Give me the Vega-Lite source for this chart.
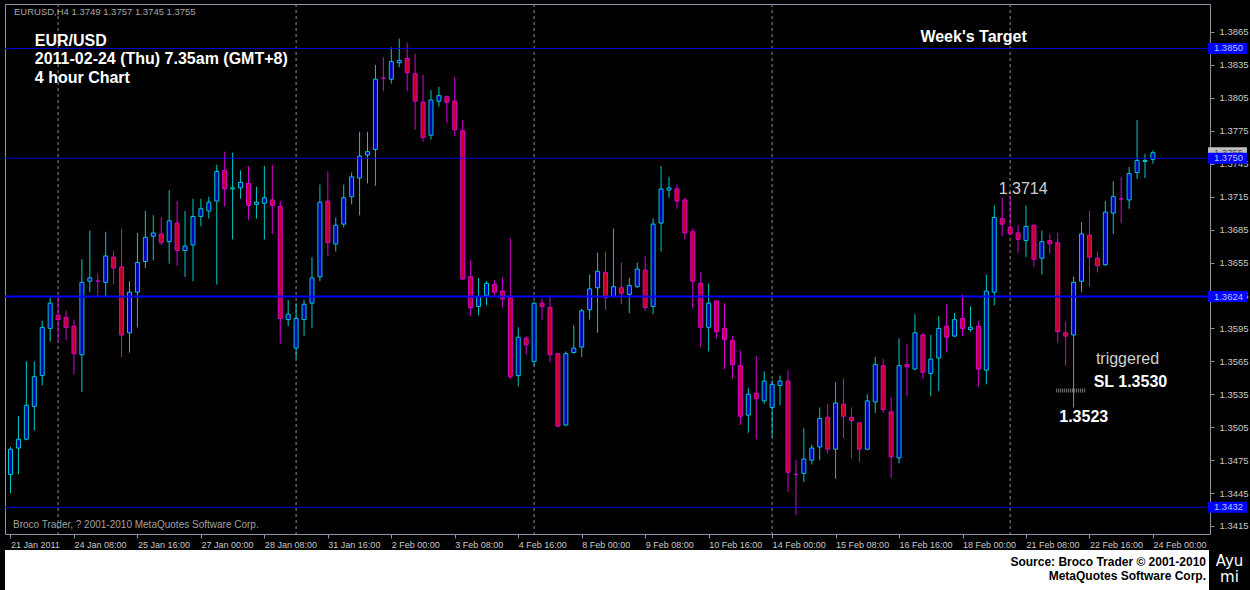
{
  "$schema": "https://vega.github.io/schema/vega-lite/v6.json",
  "background": "#000000",
  "padding": {"left": 3, "top": 3, "right": 0, "bottom": 0},
  "spacing": 0,
  "config": {
    "font": "Liberation Sans",
    "view": {"stroke": "#8a96a6", "strokeWidth": 1},
    "concat": {"spacing": 0}
  },
  "datasets": {
    "candles": [
      {"i":0,"open":1.3462,"high":1.3487,"low":1.3445,"close":1.3485},
      {"i":1,"open":1.3486,"high":1.3515,"low":1.3462,"close":1.3494},
      {"i":2,"open":1.3494,"high":1.3565,"low":1.3493,"close":1.3525},
      {"i":3,"open":1.3524,"high":1.3565,"low":1.3502,"close":1.3551},
      {"i":4,"open":1.3552,"high":1.3602,"low":1.3543,"close":1.3596},
      {"i":5,"open":1.3595,"high":1.3623,"low":1.3583,"close":1.3618},
      {"i":6,"open":1.3607,"high":1.3623,"low":1.3583,"close":1.3603},
      {"i":7,"open":1.3605,"high":1.3611,"low":1.3584,"close":1.3596},
      {"i":8,"open":1.3597,"high":1.3603,"low":1.3553,"close":1.3572},
      {"i":9,"open":1.3571,"high":1.3658,"low":1.3537,"close":1.3637},
      {"i":10,"open":1.3638,"high":1.3684,"low":1.3628,"close":1.3641},
      {"i":11,"open":1.3638,"high":1.3645,"low":1.3625,"close":1.3638},
      {"i":12,"open":1.3637,"high":1.3683,"low":1.3624,"close":1.3661},
      {"i":13,"open":1.3660,"high":1.3666,"low":1.3635,"close":1.3650},
      {"i":14,"open":1.3651,"high":1.3686,"low":1.3569,"close":1.3589},
      {"i":15,"open":1.3591,"high":1.3638,"low":1.3573,"close":1.3628},
      {"i":16,"open":1.3628,"high":1.3682,"low":1.3596,"close":1.3655},
      {"i":17,"open":1.3656,"high":1.3702,"low":1.3650,"close":1.3678},
      {"i":18,"open":1.3679,"high":1.3698,"low":1.3657,"close":1.3682},
      {"i":19,"open":1.3681,"high":1.3696,"low":1.3671,"close":1.3673},
      {"i":20,"open":1.3674,"high":1.3721,"low":1.3654,"close":1.3693},
      {"i":21,"open":1.3691,"high":1.3711,"low":1.3652,"close":1.3666},
      {"i":22,"open":1.3666,"high":1.3702,"low":1.3642,"close":1.3670},
      {"i":23,"open":1.3671,"high":1.3713,"low":1.3638,"close":1.3697},
      {"i":24,"open":1.3697,"high":1.3713,"low":1.3688,"close":1.3704},
      {"i":25,"open":1.3702,"high":1.3715,"low":1.3695,"close":1.3710},
      {"i":26,"open":1.3711,"high":1.3744,"low":1.3635,"close":1.3738},
      {"i":27,"open":1.3739,"high":1.3756,"low":1.3706,"close":1.3722},
      {"i":28,"open":1.3722,"high":1.3755,"low":1.3676,"close":1.3723},
      {"i":29,"open":1.3723,"high":1.3739,"low":1.3713,"close":1.3728},
      {"i":30,"open":1.3727,"high":1.3743,"low":1.3694,"close":1.3707},
      {"i":31,"open":1.3708,"high":1.3724,"low":1.3695,"close":1.3710},
      {"i":32,"open":1.3709,"high":1.3743,"low":1.3676,"close":1.3714},
      {"i":33,"open":1.3712,"high":1.3744,"low":1.3681,"close":1.3707},
      {"i":34,"open":1.3706,"high":1.3711,"low":1.3581,"close":1.3604},
      {"i":35,"open":1.3603,"high":1.3621,"low":1.3597,"close":1.3608},
      {"i":36,"open":1.3577,"high":1.3618,"low":1.3567,"close":1.3604},
      {"i":37,"open":1.3603,"high":1.3621,"low":1.3588,"close":1.3617},
      {"i":38,"open":1.3618,"high":1.3660,"low":1.3595,"close":1.3641},
      {"i":39,"open":1.3642,"high":1.3726,"low":1.3638,"close":1.3710},
      {"i":40,"open":1.3711,"high":1.3738,"low":1.3661,"close":1.3673},
      {"i":41,"open":1.3672,"high":1.3696,"low":1.3665,"close":1.3689},
      {"i":42,"open":1.3690,"high":1.3726,"low":1.3687,"close":1.3714},
      {"i":43,"open":1.3715,"high":1.3737,"low":1.3708,"close":1.3733},
      {"i":44,"open":1.3732,"high":1.3774,"low":1.3698,"close":1.3752},
      {"i":45,"open":1.3753,"high":1.3774,"low":1.3727,"close":1.3756},
      {"i":46,"open":1.3758,"high":1.3835,"low":1.3725,"close":1.3822},
      {"i":47,"open":1.3823,"high":1.3842,"low":1.3811,"close":1.3823},
      {"i":48,"open":1.3822,"high":1.3851,"low":1.3818,"close":1.3838},
      {"i":49,"open":1.3837,"high":1.3859,"low":1.3833,"close":1.3839},
      {"i":50,"open":1.3841,"high":1.3855,"low":1.3811,"close":1.3828},
      {"i":51,"open":1.3827,"high":1.3845,"low":1.3776,"close":1.3802},
      {"i":52,"open":1.3801,"high":1.3826,"low":1.3765,"close":1.3769},
      {"i":53,"open":1.3771,"high":1.3812,"low":1.3767,"close":1.3803},
      {"i":54,"open":1.3802,"high":1.3815,"low":1.3797,"close":1.3807},
      {"i":55,"open":1.3806,"high":1.3807,"low":1.3782,"close":1.3801},
      {"i":56,"open":1.3802,"high":1.3824,"low":1.3770,"close":1.3776},
      {"i":57,"open":1.3775,"high":1.3785,"low":1.3639,"close":1.3640},
      {"i":58,"open":1.3642,"high":1.3657,"low":1.3606,"close":1.3614},
      {"i":59,"open":1.3615,"high":1.3641,"low":1.3607,"close":1.3624},
      {"i":60,"open":1.3625,"high":1.3638,"low":1.3616,"close":1.3636},
      {"i":61,"open":1.3635,"high":1.3639,"low":1.3625,"close":1.3628},
      {"i":62,"open":1.3629,"high":1.3641,"low":1.3614,"close":1.3622},
      {"i":63,"open":1.3623,"high":1.3677,"low":1.3549,"close":1.3551},
      {"i":64,"open":1.3552,"high":1.3596,"low":1.3542,"close":1.3587},
      {"i":65,"open":1.3586,"high":1.3588,"low":1.3571,"close":1.3580},
      {"i":66,"open":1.3565,"high":1.3619,"low":1.3561,"close":1.3618},
      {"i":67,"open":1.3618,"high":1.3622,"low":1.3603,"close":1.3615},
      {"i":68,"open":1.3614,"high":1.3625,"low":1.3564,"close":1.3571},
      {"i":69,"open":1.3572,"high":1.3572,"low":1.3505,"close":1.3506},
      {"i":70,"open":1.3507,"high":1.3574,"low":1.3506,"close":1.3572},
      {"i":71,"open":1.3573,"high":1.3598,"low":1.3572,"close":1.3577},
      {"i":72,"open":1.3578,"high":1.3613,"low":1.3569,"close":1.3611},
      {"i":73,"open":1.3612,"high":1.3644,"low":1.3603,"close":1.3631},
      {"i":74,"open":1.3632,"high":1.3664,"low":1.3591,"close":1.3647},
      {"i":75,"open":1.3646,"high":1.3665,"low":1.3612,"close":1.3623},
      {"i":76,"open":1.3624,"high":1.3686,"low":1.3623,"close":1.3633},
      {"i":77,"open":1.3632,"high":1.3655,"low":1.3617,"close":1.3627},
      {"i":78,"open":1.3626,"high":1.3641,"low":1.3609,"close":1.3634},
      {"i":79,"open":1.3633,"high":1.3655,"low":1.3632,"close":1.3649},
      {"i":80,"open":1.3648,"high":1.3661,"low":1.3611,"close":1.3614},
      {"i":81,"open":1.3615,"high":1.3695,"low":1.3608,"close":1.3690},
      {"i":82,"open":1.3691,"high":1.3743,"low":1.3665,"close":1.3722},
      {"i":83,"open":1.3721,"high":1.3733,"low":1.3714,"close":1.3723},
      {"i":84,"open":1.3722,"high":1.3726,"low":1.3704,"close":1.3711},
      {"i":85,"open":1.3712,"high":1.3714,"low":1.3676,"close":1.3682},
      {"i":86,"open":1.3683,"high":1.3686,"low":1.3613,"close":1.3638},
      {"i":87,"open":1.3636,"high":1.3646,"low":1.3578,"close":1.3596},
      {"i":88,"open":1.3596,"high":1.3636,"low":1.3574,"close":1.3618},
      {"i":89,"open":1.3620,"high":1.3620,"low":1.3586,"close":1.3592},
      {"i":90,"open":1.3595,"high":1.3618,"low":1.3558,"close":1.3585},
      {"i":91,"open":1.3584,"high":1.3588,"low":1.3549,"close":1.3562},
      {"i":92,"open":1.3561,"high":1.3575,"low":1.3507,"close":1.3515},
      {"i":93,"open":1.3516,"high":1.3541,"low":1.3500,"close":1.3535},
      {"i":94,"open":1.3536,"high":1.3570,"low":1.3494,"close":1.3531},
      {"i":95,"open":1.3529,"high":1.3556,"low":1.3526,"close":1.3547},
      {"i":96,"open":1.3523,"high":1.3548,"low":1.3496,"close":1.3544},
      {"i":97,"open":1.3543,"high":1.3552,"low":1.3525,"close":1.3547},
      {"i":98,"open":1.3547,"high":1.3557,"low":1.3446,"close":1.3464},
      {"i":99,"open":1.3462,"high":1.3475,"low":1.3425,"close":1.3462},
      {"i":100,"open":1.3463,"high":1.3504,"low":1.3455,"close":1.3476},
      {"i":101,"open":1.3475,"high":1.3489,"low":1.3471,"close":1.3486},
      {"i":102,"open":1.3487,"high":1.3523,"low":1.3475,"close":1.3513},
      {"i":103,"open":1.3514,"high":1.3526,"low":1.3481,"close":1.3485},
      {"i":104,"open":1.3485,"high":1.3546,"low":1.3458,"close":1.3527},
      {"i":105,"open":1.3526,"high":1.3549,"low":1.3495,"close":1.3515},
      {"i":106,"open":1.3514,"high":1.3523,"low":1.3477,"close":1.3511},
      {"i":107,"open":1.3509,"high":1.3509,"low":1.3473,"close":1.3485},
      {"i":108,"open":1.3485,"high":1.3535,"low":1.3484,"close":1.3529},
      {"i":109,"open":1.3528,"high":1.3569,"low":1.3518,"close":1.3562},
      {"i":110,"open":1.3561,"high":1.3567,"low":1.3518,"close":1.3521},
      {"i":111,"open":1.3519,"high":1.3532,"low":1.3459,"close":1.3478},
      {"i":112,"open":1.3477,"high":1.3586,"low":1.3472,"close":1.3561},
      {"i":113,"open":1.3562,"high":1.3581,"low":1.3533,"close":1.3560},
      {"i":114,"open":1.3558,"high":1.3608,"low":1.3557,"close":1.3591},
      {"i":115,"open":1.3589,"high":1.3591,"low":1.3549,"close":1.3555},
      {"i":116,"open":1.3554,"high":1.3589,"low":1.3533,"close":1.3567},
      {"i":117,"open":1.3568,"high":1.3606,"low":1.3538,"close":1.3595},
      {"i":118,"open":1.3597,"high":1.3617,"low":1.3573,"close":1.3587},
      {"i":119,"open":1.3588,"high":1.3609,"low":1.3587,"close":1.3603},
      {"i":120,"open":1.3604,"high":1.3626,"low":1.3588,"close":1.3595},
      {"i":121,"open":1.3594,"high":1.3615,"low":1.3592,"close":1.3596},
      {"i":122,"open":1.3597,"high":1.3602,"low":1.3542,"close":1.3558},
      {"i":123,"open":1.3557,"high":1.3644,"low":1.3544,"close":1.3629},
      {"i":124,"open":1.3628,"high":1.3707,"low":1.3616,"close":1.3696},
      {"i":125,"open":1.3695,"high":1.3714,"low":1.3679,"close":1.3690},
      {"i":126,"open":1.3687,"high":1.3716,"low":1.3680,"close":1.3681},
      {"i":127,"open":1.3682,"high":1.3689,"low":1.3664,"close":1.3676},
      {"i":128,"open":1.3675,"high":1.3707,"low":1.3660,"close":1.3688},
      {"i":129,"open":1.3689,"high":1.3689,"low":1.3651,"close":1.3658},
      {"i":130,"open":1.3659,"high":1.3684,"low":1.3644,"close":1.3674},
      {"i":131,"open":1.3675,"high":1.3681,"low":1.3663,"close":1.3672},
      {"i":132,"open":1.3673,"high":1.3682,"low":1.3582,"close":1.3592},
      {"i":133,"open":1.3591,"high":1.3601,"low":1.3561,"close":1.3588},
      {"i":134,"open":1.3589,"high":1.3642,"low":1.3523,"close":1.3637},
      {"i":135,"open":1.3638,"high":1.3692,"low":1.3628,"close":1.3681},
      {"i":136,"open":1.3680,"high":1.3702,"low":1.3633,"close":1.3660},
      {"i":137,"open":1.3659,"high":1.3665,"low":1.3646,"close":1.3652},
      {"i":138,"open":1.3653,"high":1.3711,"low":1.3652,"close":1.3701},
      {"i":139,"open":1.3700,"high":1.3729,"low":1.3681,"close":1.3715},
      {"i":140,"open":1.3713,"high":1.3733,"low":1.3691,"close":1.3713},
      {"i":141,"open":1.3712,"high":1.3742,"low":1.3704,"close":1.3736},
      {"i":142,"open":1.3737,"high":1.3785,"low":1.3731,"close":1.3748},
      {"i":143,"open":1.3747,"high":1.3754,"low":1.3732,"close":1.3748},
      {"i":144,"open":1.3749,"high":1.3757,"low":1.3745,"close":1.3755}
    ]
  },
  "vconcat": [
    {
      "width": 1205,
      "height": 530,
      "resolve": {"axis": {"x": "independent", "y": "independent"}},
      "layer": [
        {
          "data": {"values": [{"i": 6}, {"i": 36}, {"i": 66}, {"i": 96}, {"i": 126}]},
          "mark": {"type": "rule", "color": "#8c8c8c", "strokeDash": [3, 3], "strokeWidth": 1},
          "encoding": {
            "x": {
              "field": "i", "type": "quantitative",
              "scale": {"domain": [-0.0625, 150.5625], "nice": false, "zero": false},
              "axis": {
                "values": [0, 8, 16, 24, 32, 40, 48, 56, 64, 72, 80, 88, 96, 104, 112, 120, 128, 136, 144],
                "labelExpr": "['21 Jan 2011','24 Jan 08:00','25 Jan 16:00','27 Jan 00:00','28 Jan 08:00','31 Jan 16:00','2 Feb 00:00','3 Feb 08:00','4 Feb 16:00','8 Feb 00:00','9 Feb 08:00','10 Feb 16:00','14 Feb 00:00','15 Feb 08:00','16 Feb 16:00','18 Feb 00:00','21 Feb 08:00','22 Feb 16:00','24 Feb 00:00'][round(datum.value / 8)]",
                "title": null, "grid": false, "domain": false,
                "tickSize": 4, "tickColor": "#8a96a6", "tickWidth": 1,
                "labelAlign": "left", "labelBaseline": "top", "labelColor": "#c8c8c8",
                "labelFont": "Liberation Sans", "labelFontSize": 9, "labelPadding": 2,
                "labelOverlap": false, "labelFlush": false, "labelBound": false
              }
            }
          }
        },
        {
          "data": {"name": "candles"},
          "mark": {"type": "rule", "strokeWidth": 1, "clip": true},
          "encoding": {
            "x": {"field": "i", "type": "quantitative", "axis": null},
            "y": {"field": "low", "type": "quantitative", "axis": null,
                  "scale": {"domain": [1.3407711, 1.3890506], "nice": false, "zero": false}},
            "y2": {"field": "high"},
            "color": {"condition": {"test": "datum.close > datum.open", "value": "#00c8c8"}, "value": "#d800d8"}
          }
        },
        {
          "data": {"name": "candles"},
          "mark": {"type": "bar", "size": 4, "strokeWidth": 1, "clip": true},
          "encoding": {
            "x": {"field": "i", "type": "quantitative", "axis": null},
            "y": {"field": "open", "type": "quantitative", "axis": null},
            "y2": {"field": "close"},
            "fill": {"condition": {"test": "datum.close > datum.open", "value": "#0000b8"}, "value": "#c40020"},
            "stroke": {"condition": {"test": "datum.close > datum.open", "value": "#00c8c8"}, "value": "#d800d8"}
          }
        },
        {
          "data": {"values": [{"price": 1.3850}, {"price": 1.3750}, {"price": 1.3432}]},
          "mark": {"type": "rule", "color": "#0000d8", "strokeWidth": 1},
          "encoding": {
            "y": {
              "field": "price", "type": "quantitative",
              "axis": {
                "orient": "right",
                "values": [1.3415, 1.3445, 1.3475, 1.3505, 1.3535, 1.3565, 1.3595, 1.3625, 1.3655, 1.3685, 1.3715, 1.3745, 1.3775, 1.3805, 1.3835, 1.3865],
                "format": ".4f", "title": null, "grid": false, "domain": false,
                "tickSize": 4, "tickColor": "#8a96a6", "tickWidth": 1,
                "labelColor": "#c8c8c8", "labelFont": "Liberation Sans", "labelFontSize": 9.5,
                "labelPadding": 5, "labelOverlap": false, "labelFlush": false, "labelBound": false
              }
            }
          }
        },
        {
          "data": {"values": [{"price": 1.3624}]},
          "mark": {"type": "rule", "color": "#0000ff", "strokeWidth": 2},
          "encoding": {"y": {"field": "price", "type": "quantitative", "axis": null}}
        },
        {
          "data": {"values": [{"price": 1.353843}]},
          "mark": {"type": "rule", "color": "#7a7a7a", "strokeWidth": 4, "strokeDash": [1, 1]},
          "encoding": {
            "x": {"datum": 131.8, "type": "quantitative", "axis": null},
            "x2": {"datum": 135.5},
            "y": {"field": "price", "type": "quantitative", "axis": null}
          }
        },
        {
          "data": {"values": [{"price": 1.3755}]},
          "mark": {"type": "rule", "color": "#c0c0c0", "strokeWidth": 11},
          "encoding": {
            "x": {"datum": 150.95, "type": "quantitative", "axis": null},
            "x2": {"datum": 155.85},
            "y": {"field": "price", "type": "quantitative", "axis": null}
          }
        },
        {
          "data": {"values": [{"price": 1.3755}]},
          "mark": {"type": "text", "align": "left", "baseline": "middle", "fontSize": 9.5, "color": "#505050", "font": "Liberation Sans"},
          "encoding": {
            "x": {"datum": 151.69, "type": "quantitative", "axis": null},
            "y": {"field": "price", "type": "quantitative", "axis": null},
            "text": {"field": "price", "type": "quantitative", "format": ".4f"}
          }
        },
        {
          "data": {"values": [{"price": 1.3850}, {"price": 1.3750}, {"price": 1.3624}, {"price": 1.3432}]},
          "mark": {"type": "rule", "color": "#0000ff", "strokeWidth": 11},
          "encoding": {
            "x": {"datum": 150.95, "type": "quantitative", "axis": null},
            "x2": {"datum": 155.85},
            "y": {"field": "price", "type": "quantitative", "axis": null}
          }
        },
        {
          "data": {"values": [{"price": 1.3850}, {"price": 1.3750}, {"price": 1.3624}, {"price": 1.3432}]},
          "mark": {"type": "text", "align": "left", "baseline": "middle", "fontSize": 9.5, "color": "#b8c4ff", "font": "Liberation Sans"},
          "encoding": {
            "x": {"datum": 151.69, "type": "quantitative", "axis": null},
            "y": {"field": "price", "type": "quantitative", "axis": null},
            "text": {"field": "price", "type": "quantitative", "format": ".4f"}
          }
        },
        {
          "data": {"values": [{}]},
          "mark": {"type": "text", "text": "EURUSD,H4  1.3749 1.3757 1.3745 1.3755", "align": "left", "baseline": "alphabetic", "fontSize": 9.5, "color": "#a8a8a8", "font": "Liberation Sans"},
          "encoding": {
            "x": {"datum": 0.4375, "type": "quantitative", "axis": null},
            "y": {"datum": 1.3880486, "type": "quantitative", "axis": null}
          }
        },
        {
          "data": {"values": [{}]},
          "mark": {"type": "text", "text": ["EUR/USD", "2011-02-24 (Thu) 7.35am (GMT+8)", "4 hour Chart"], "lineHeight": 18.5, "align": "left", "baseline": "alphabetic", "fontSize": 16, "fontWeight": "bold", "color": "#ffffff", "font": "Liberation Sans"},
          "encoding": {
            "x": {"datum": 3.0625, "type": "quantitative", "axis": null},
            "y": {"datum": 1.385225, "type": "quantitative", "axis": null}
          }
        },
        {
          "data": {"values": [{}]},
          "mark": {"type": "text", "text": "Week's Target", "align": "left", "baseline": "alphabetic", "fontSize": 16, "fontWeight": "bold", "color": "#ffffff", "font": "Liberation Sans"},
          "encoding": {
            "x": {"datum": 114.69, "type": "quantitative", "axis": null},
            "y": {"datum": 1.3855891, "type": "quantitative", "axis": null}
          }
        },
        {
          "data": {"values": [{}]},
          "mark": {"type": "text", "text": "1.3714", "align": "left", "baseline": "alphabetic", "fontSize": 16, "color": "#d0d0d0", "font": "Liberation Sans"},
          "encoding": {
            "x": {"datum": 124.56, "type": "quantitative", "axis": null},
            "y": {"datum": 1.371743, "type": "quantitative", "axis": null}
          }
        },
        {
          "data": {"values": [{}]},
          "mark": {"type": "text", "text": "triggered", "align": "left", "baseline": "alphabetic", "fontSize": 16, "color": "#d0d0d0", "font": "Liberation Sans"},
          "encoding": {
            "x": {"datum": 136.81, "type": "quantitative", "axis": null},
            "y": {"datum": 1.356302, "type": "quantitative", "axis": null}
          }
        },
        {
          "data": {"values": [{}]},
          "mark": {"type": "text", "text": "SL 1.3530", "align": "left", "baseline": "alphabetic", "fontSize": 16, "fontWeight": "bold", "color": "#ffffff", "font": "Liberation Sans"},
          "encoding": {
            "x": {"datum": 136.53, "type": "quantitative", "axis": null},
            "y": {"datum": 1.354162, "type": "quantitative", "axis": null}
          }
        },
        {
          "data": {"values": [{}]},
          "mark": {"type": "text", "text": "1.3523", "align": "left", "baseline": "alphabetic", "fontSize": 16, "fontWeight": "bold", "color": "#ffffff", "font": "Liberation Sans"},
          "encoding": {
            "x": {"datum": 132.19, "type": "quantitative", "axis": null},
            "y": {"datum": 1.350974, "type": "quantitative", "axis": null}
          }
        },
        {
          "data": {"values": [{}]},
          "mark": {"type": "text", "text": "Broco Trader, ? 2001-2010 MetaQuotes Software Corp.", "align": "left", "baseline": "alphabetic", "fontSize": 10, "color": "#a0a0a0", "font": "Liberation Sans"},
          "encoding": {
            "x": {"datum": 0.3125, "type": "quantitative", "axis": null},
            "y": {"datum": 1.341317, "type": "quantitative", "axis": null}
          }
        }
      ]
    },
    {
      "spacing": 0,
      "hconcat": [
        {
          "width": 1204,
          "height": 41,
          "view": {"fill": "#ffffff", "stroke": null},
          "data": {"values": [{"line": 1, "t": "Source: Broco Trader © 2001-2010"}, {"line": 2, "t": "MetaQuotes Software Corp."}]},
          "mark": {"type": "text", "align": "right", "baseline": "middle", "fontWeight": "bold", "fontSize": 12, "color": "#000000", "font": "Liberation Sans", "dx": -3},
          "encoding": {
            "x": {"datum": 1, "type": "quantitative", "scale": {"domain": [0, 1]}, "axis": null},
            "y": {"field": "line", "type": "ordinal", "axis": null, "scale": {"range": [12, 26], "padding": 0}},
            "text": {"field": "t"}
          }
        },
        {
          "width": 41,
          "height": 37,
          "view": {"fill": "#000000", "stroke": null, "cornerRadius": 6},
          "data": {"values": [{"line": 1, "t": "Ayu"}, {"line": 2, "t": "mi"}]},
          "mark": {"type": "text", "align": "center", "baseline": "middle", "fontSize": 15, "color": "#ffffff", "font": "DejaVu Sans"},
          "encoding": {
            "y": {"field": "line", "type": "ordinal", "axis": null, "scale": {"range": [11, 27], "padding": 0}},
            "text": {"field": "t"}
          }
        }
      ]
    }
  ]
}
